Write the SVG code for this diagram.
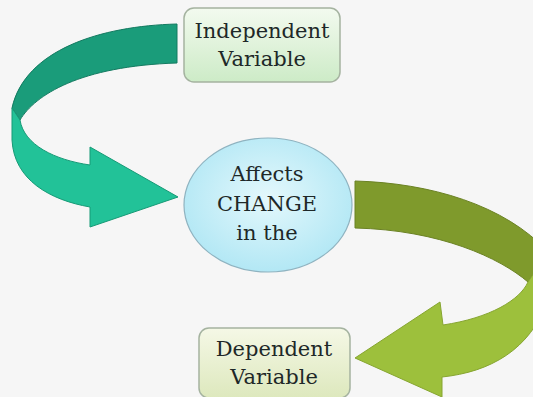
<svg xmlns="http://www.w3.org/2000/svg" width="533" height="397" viewBox="0 0 533 397">
<defs>
<linearGradient id="gInd" x1="0" y1="0" x2="0" y2="1"><stop offset="0" stop-color="#f3faef"/><stop offset="1" stop-color="#cdebc7"/></linearGradient>
<linearGradient id="gDep" x1="0" y1="0" x2="0" y2="1"><stop offset="0" stop-color="#f5f8e6"/><stop offset="1" stop-color="#dde8bd"/></linearGradient>
<radialGradient id="gEl" cx="0.5" cy="0.45" r="0.6"><stop offset="0" stop-color="#e4f8fc"/><stop offset="1" stop-color="#aee6f4"/></radialGradient>
</defs>
<style>
.box{stroke:#a5b3a0;stroke-width:1.5}
.t{font-family:"DejaVu Serif",serif;font-size:21px;fill:#1e2828;text-anchor:middle}
.ar{stroke-width:1;stroke-linejoin:round}
</style>
<rect width="533" height="397" fill="#f6f6f6"/>
<g id="connectors">
<g id="arrow-teal">
<path class="ar" d="M177,24 C100,26 25,50 12,108 L20,120 C35,95 80,66 177,63 Z" fill="#1a9c7a" stroke="#137a60"/>
<path class="ar" d="M12,108 L20,120 C24,145 55,160 90,165 L90,147 L178,197 L90,227 L90,207 C50,200 14,180 12,140 Z" fill="#22c298" stroke="#169a76"/>
</g>
<g id="arrow-olive">
<path class="ar" d="M355,181 C430,183 505,205 548,252 L528,282 C500,258 440,230 355,228 Z" fill="#7f9a2c" stroke="#6b8224"/>
<path class="ar" d="M548,252 L528,282 C520,300 490,318 443,325 L440,302 L355,358 L442,397 L442,377 C490,372 530,350 548,300 Z" fill="#9dc03c" stroke="#86a530"/>
</g>
</g>
<g id="node-independent">
<rect class="box" x="184" y="8" width="156" height="74" rx="10" fill="url(#gInd)"/>
<text class="t" x="262" y="38">Independent</text>
<text class="t" x="262" y="66">Variable</text>
</g>
<g id="node-affects">
<ellipse cx="268" cy="205" rx="84" ry="67" fill="url(#gEl)" stroke="#8fb3c0" stroke-width="1.2"/>
<text class="t" x="267" y="181">Affects</text>
<text class="t" x="267" y="211">CHANGE</text>
<text class="t" x="267" y="240">in the</text>
</g>
<g id="node-dependent">
<rect class="box" x="199" y="328" width="151" height="70" rx="10" fill="url(#gDep)"/>
<text class="t" x="274" y="356">Dependent</text>
<text class="t" x="274" y="384">Variable</text>
</g>
</svg>
